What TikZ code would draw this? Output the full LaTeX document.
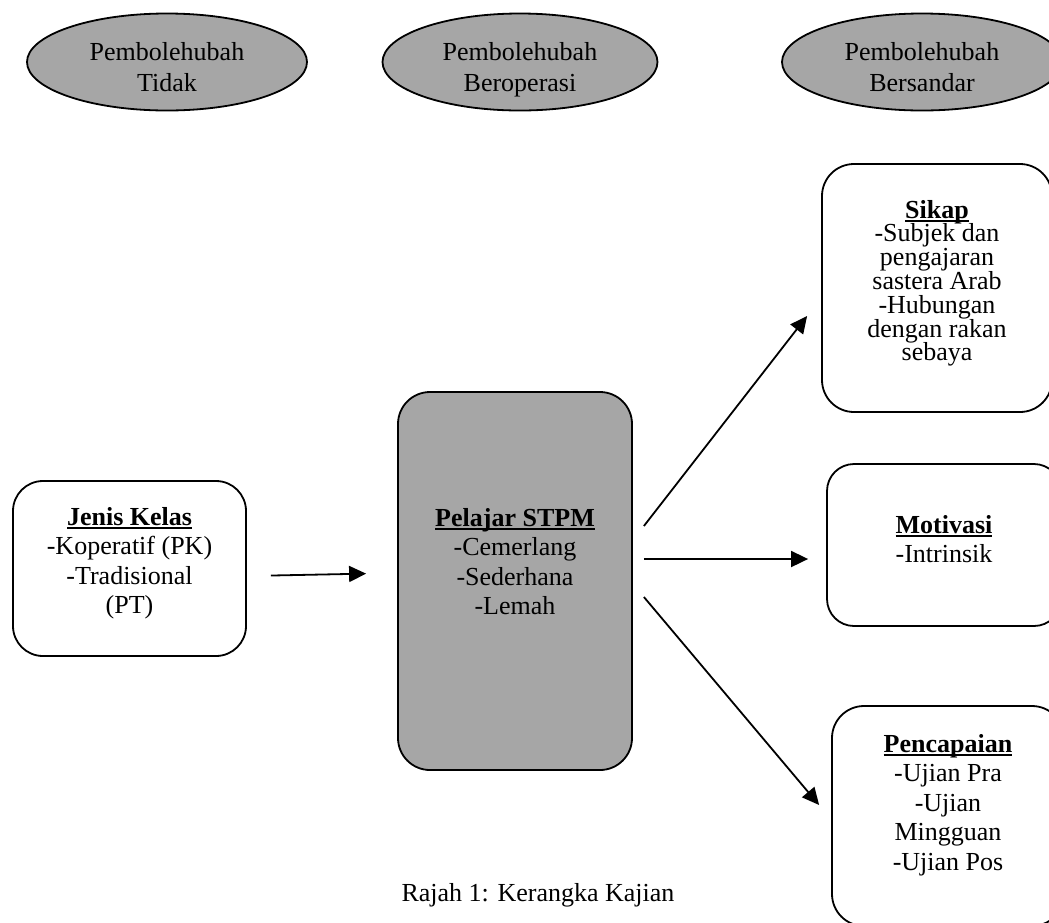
\documentclass[tikz,border=0pt]{standalone}
\usepackage{fontspec}
\setmainfont{Liberation Serif}
\usepackage{color}
\definecolor{mygray}{RGB}{166,166,166}
\usepackage{tikz}
\usetikzlibrary{shapes.geometric,positioning,arrows.meta}

% bold heading with a heavier underline
\newcommand{\ultitle}[1]{\setbox0\hbox{\textbf{#1}}\leavevmode\rlap{\rule[-4pt]{\wd0}{1.7pt}}\box0}

\begin{document}
\begin{tikzpicture}[
  x=1pt, y=-1pt,
  line width=1.8pt,
  myellipse/.style={
    draw,
    ellipse,
    fill=mygray,
    inner sep=0pt,
    minimum height=97pt
    },
  mybox/.style={
    draw,
    rectangle,
    rounded corners=32pt,
    inner sep=0pt
    },
  mytext/.style={
    align=center,
    inner sep=0pt,
    font=\fontsize{26}{#1}\selectfont
    },
  mytext/.default=29.5,
  myarrow/.style={-{Triangle[length=17pt,width=16pt]}}
]
\useasboundingbox (0,0) rectangle (1049,922);

% the three kinds of variables
\node[myellipse, minimum width=280pt] (tidak) at (167,62) {};
\node[myellipse, minimum width=275pt] (operasi) at (520,62) {};
\node[myellipse, minimum width=280pt] (sandar) at (922,62) {};

\node[mytext=31, below=29pt of tidak.north] (tidakteks) {Pembolehubah\\Tidak};
\node[mytext=31, below=29pt of operasi.north] (operasiteks) {Pembolehubah\\Beroperasi};
\node[mytext=31, below=29pt of sandar.north] (sandarteks) {Pembolehubah\\Bersandar};

% boxes
\node[mybox, rounded corners=30pt, minimum width=233pt, minimum height=175pt] (jenis) at (129.5,568.5) {};
\node[mybox, fill=mygray, minimum width=234pt, minimum height=378pt] (stpm) at (515,581) {};
\node[mybox, minimum width=230pt, minimum height=248pt] (sikap) at (937,288) {};
\node[mybox, rounded corners=27pt, minimum width=234pt, minimum height=162pt] (motivasi) at (944,545) {};
\node[mybox, minimum width=232pt, minimum height=220pt] (pencapaian) at (948,816) {};

\node[mytext, below=26pt of jenis.north] (jenisteks)
  {\ultitle{Jenis Kelas}\\-Koperatif (PK)\\-Tradisional\\(PT)};
\node[mytext, below=116pt of stpm.north] (stpmteks)
  {\ultitle{Pelajar STPM}\\-Cemerlang\\-Sederhana\\-Lemah};
\node[mytext=23.8, below=36pt of sikap.north] (sikapteks)
  {\ultitle{Sikap}\\-Subjek dan\\pengajaran\\sastera Arab\\-Hubungan\\dengan rakan\\sebaya};
\node[mytext, below=51pt of motivasi.north] (motivasiteks)
  {\ultitle{Motivasi}\\-Intrinsik};
\node[mytext, below=28pt of pencapaian.north] (pencapaianteks)
  {\ultitle{Pencapaian}\\-Ujian Pra\\-Ujian\\Mingguan\\-Ujian Pos};

% arrows
\draw[myarrow, shorten <=24pt, shorten >=31pt] ([yshift=-7.5pt]jenis.east) -- ([yshift=8pt]stpm.west);
\draw[myarrow] ([xshift=11pt,yshift=55pt]stpm.east) -- ([xshift=-14pt,yshift=-28pt]sikap.west);
\draw[myarrow] ([xshift=11pt,yshift=22pt]stpm.east) -- ([xshift=-18pt,yshift=-14pt]motivasi.west);
\draw[myarrow] ([xshift=11pt,yshift=-16pt]stpm.east) -- ([xshift=-12pt,yshift=11pt]pencapaian.west);

\node[mytext] (rajah) at (538,895) {Rajah 1: Kerangka Kajian};
\end{tikzpicture}
\end{document}
